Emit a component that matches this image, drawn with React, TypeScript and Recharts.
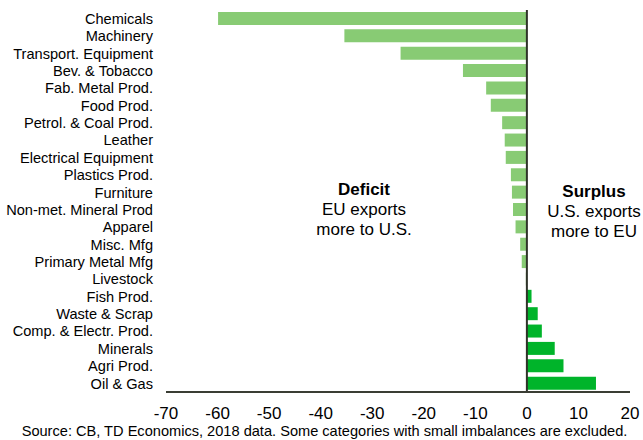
import { Bar, BarChart, Cell, ReferenceLine, XAxis, YAxis } from "recharts";

// US-EU trade balance by industry, billions USD (negative = deficit)
const categories = [
  "Chemicals",
  "Machinery",
  "Transport. Equipment",
  "Bev. & Tobacco",
  "Fab. Metal Prod.",
  "Food Prod.",
  "Petrol. & Coal Prod.",
  "Leather",
  "Electrical Equipment",
  "Plastics Prod.",
  "Furniture",
  "Non-met. Mineral Prod",
  "Apparel",
  "Misc. Mfg",
  "Primary Metal Mfg",
  "Livestock",
  "Fish Prod.",
  "Waste & Scrap",
  "Comp. & Electr. Prod.",
  "Minerals",
  "Agri Prod.",
  "Oil & Gas",
];

const balances = [
  -59.9, -35.4, -24.5, -12.4, -7.9, -7.0, -4.8, -4.3, -4.1, -3.1, -2.9,
  -2.7, -2.2, -1.3, -1.0, -0.2, 0.9, 2.1, 2.9, 5.4, 7.1, 13.4,
];

const xTicks = [-70, -60, -50, -40, -30, -20, -10, 0, 10, 20];

const DEFICIT_COLOR = "#88cb74";
const SURPLUS_COLOR = "#00b42a";
const FONT = "'Liberation Sans', Arial, sans-serif";

const rows = categories.map((name, i) => ({ name, value: balances[i] }));

function Note({ x, y, lines }: { x: number; y: number; lines: string[] }) {
  return (
    <div
      style={{
        position: "absolute",
        left: x - 80,
        top: y,
        width: 160,
        textAlign: "center",
        fontFamily: FONT,
        fontSize: 17,
        lineHeight: "20px",
        color: "#000",
      }}
    >
      <div style={{ fontWeight: 700 }}>{lines[0]}</div>
      <div>{lines[1]}</div>
      <div>{lines[2]}</div>
    </div>
  );
}

export default function App() {
  return (
    <div
      style={{
        position: "absolute",
        left: 0,
        top: 0,
        width: 643,
        height: 440,
        background: "#fff",
        fontFamily: FONT,
      }}
    >
      <BarChart
        width={643}
        height={440}
        data={rows}
        layout="vertical"
        margin={{ top: 10, right: 13, bottom: 0, left: 0 }}
      >
        <XAxis
          type="number"
          domain={[-70, 20]}
          ticks={xTicks}
          tickLine={false}
          tickSize={6}
          tickMargin={9}
          height={48}
          axisLine={{ stroke: "#3a3d34", strokeWidth: 2 }}
          tick={{ fill: "#000", fontSize: 17, fontFamily: FONT }}
        />
        <YAxis
          type="category"
          dataKey="name"
          width={166}
          interval={0}
          axisLine={false}
          tickLine={false}
          tickSize={0}
          tickMargin={13}
          tick={{ fill: "#000", fontSize: 14.6, fontFamily: FONT }}
        />
        <Bar dataKey="value" barSize={13} isAnimationActive={false}>
          {rows.map((r) => (
            <Cell
              key={r.name}
              fill={r.value < 0 ? DEFICIT_COLOR : SURPLUS_COLOR}
            />
          ))}
        </Bar>
        <ReferenceLine x={0} stroke="#2f3329" strokeWidth={2} />
      </BarChart>

      <Note x={364} y={180} lines={["Deficit", "EU exports", "more to U.S."]} />
      <Note x={594} y={182} lines={["Surplus", "U.S. exports", "more to EU"]} />

      <div
        style={{
          position: "absolute",
          left: 0,
          top: 423,
          width: 649,
          lineHeight: "16px",
          textAlign: "center",
          fontFamily: FONT,
          fontSize: 14.6,
          color: "#000",
          whiteSpace: "nowrap",
        }}
      >
        Source: CB, TD Economics, 2018 data. Some categories with small
        imbalances are excluded.
      </div>
    </div>
  );
}
